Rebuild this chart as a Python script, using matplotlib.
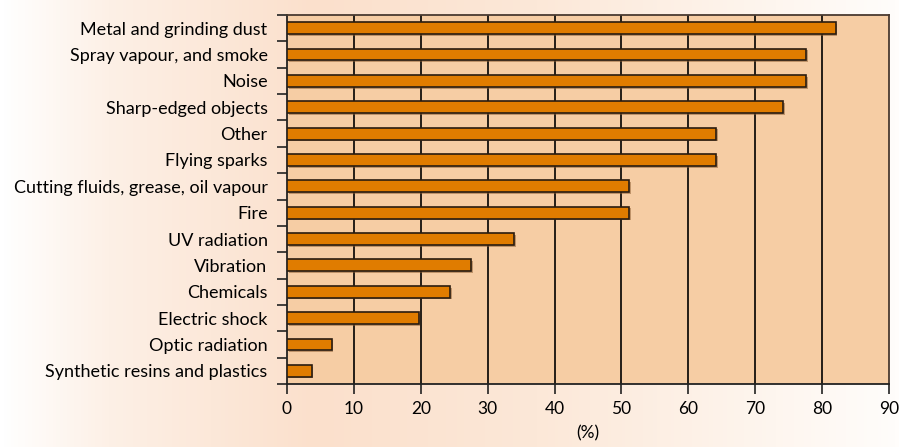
import numpy as np
import matplotlib.pyplot as plt
import matplotlib.patheffects as pe
from matplotlib.colors import LinearSegmentedColormap

# data (top to bottom as shown)
categories = [
    "Metal and grinding dust",
    "Spray vapour, and smoke",
    "Noise",
    "Sharp-edged objects",
    "Other",
    "Flying sparks",
    "Cutting fluids, grease, oil vapour",
    "Fire",
    "UV radiation",
    "Vibration",
    "Chemicals",
    "Electric shock",
    "Optic radiation",
    "Synthetic resins and plastics",
]
values = [82.0, 77.6, 77.6, 74.2, 64.2, 64.2, 51.2, 51.2, 34.0, 27.5, 24.4, 19.7, 6.7, 3.7]
x_ticks = [0, 10, 20, 30, 40, 50, 60, 70, 80, 90]

plt.rcParams['font.family'] = ['Lato', 'DejaVu Sans']

fig = plt.figure(figsize=(8.99, 4.47), dpi=100)

# ---- gradient background behind everything ----
bg = fig.add_axes([0, 0, 1, 1], zorder=-10)
grad = LinearSegmentedColormap.from_list(
    "bg", [(0.0, "#ffffff"), (0.12, "#fdf0e6"), (0.35, "#fbe0cc"),
           (0.6, "#fce8d8"), (1.0, "#fffdfb")])
bg.imshow(np.linspace(0, 1, 256).reshape(1, -1), cmap=grad, aspect="auto",
          extent=[0, 1, 0, 1])
bg.axis("off")

ax = fig.add_axes([0.3192, 0.1409, 0.6697, 0.8255])
ax.set_facecolor("#f6cda4")

y = np.arange(len(categories))[::-1]
bars = ax.barh(y, values, height=0.45, color="#e07c00",
               edgecolor="#2a1c10", linewidth=1.2, zorder=3)
for b in bars:
    b.set_path_effects([pe.SimplePatchShadow(offset=(1.2, -1.2),
                                             shadow_rgbFace="#8a5a30", alpha=0.5),
                        pe.Normal()])

ax.set_xlim(0, 90)
ax.set_ylim(-0.5, len(categories) - 0.5)

for v in x_ticks[1:-1]:
    ax.axvline(v, color="black", lw=1.2, zorder=2)

ax.set_xticks(x_ticks)
ax.tick_params(axis="x", direction="out", length=7, width=1.2, color="#222222",
               labelsize=12.5, pad=5)

ax.set_yticks(y)
ax.set_yticklabels(categories, fontsize=13)
ax.tick_params(axis="y", which="major", length=0, pad=14)
ax.set_yticks(np.arange(len(categories) + 1) - 0.5, minor=True)
ax.tick_params(axis="y", which="minor", direction="out", length=7, width=1.2,
               color="#222222")

for s in ["left", "bottom"]:
    ax.spines[s].set_color("#222222")
    ax.spines[s].set_linewidth(1.3)
for s in ["top", "right"]:
    ax.spines[s].set_color("#4a3a30")
    ax.spines[s].set_linewidth(1.3)

ax.set_xlabel("(%)", fontsize=12.5, labelpad=6)

fig.savefig("out.png", dpi=100)
